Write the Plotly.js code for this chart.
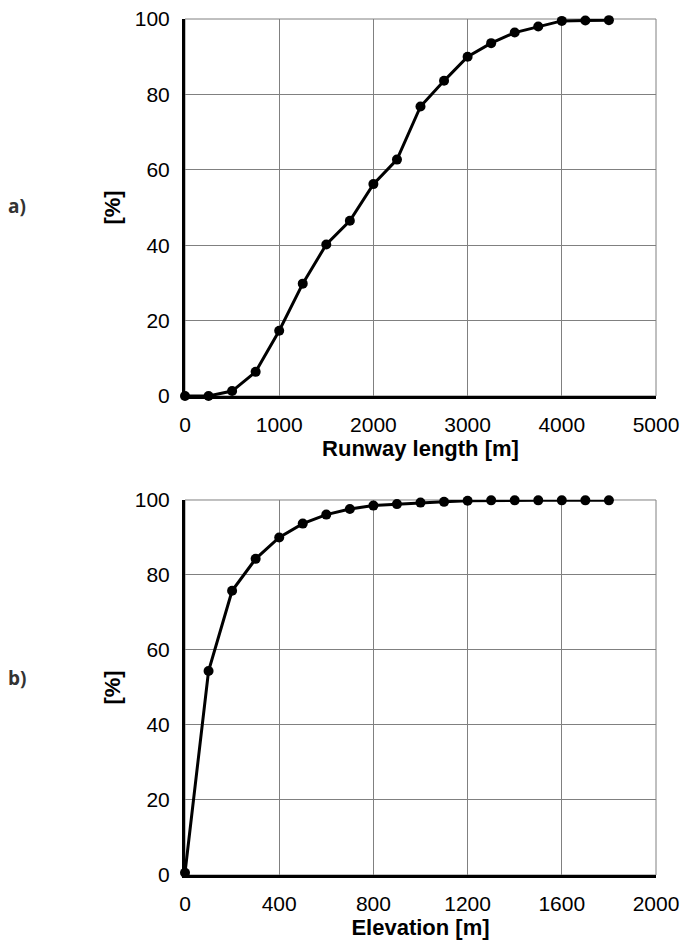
<!DOCTYPE html>
<html>
<head>
<meta charset="utf-8">
<script src="https://cdn.plot.ly/plotly-3.0.1.min.js"></script>
<style>html,body{margin:0;padding:0;background:#fff;}#chart{width:681px;height:942px;}</style>
</head>
<body>
<div id="chart"></div>
<script>
const runwayLength = [0, 250, 500, 750, 1000, 1250, 1500, 1750, 2000, 2250, 2500, 2750, 3000, 3250, 3500, 3750, 4000, 4250, 4500];
const runwayPct = [0, 0, 1.3, 6.4, 17.3, 29.8, 40.2, 46.5, 56.2, 62.7, 76.8, 83.6, 90.0, 93.6, 96.4, 98.0, 99.5, 99.6, 99.7];
const elevation = [0, 100, 200, 300, 400, 500, 600, 700, 800, 900, 1000, 1100, 1200, 1300, 1400, 1500, 1600, 1700, 1800];
const elevationPct = [0.6, 54.4, 75.8, 84.3, 90.0, 93.7, 96.1, 97.6, 98.5, 98.9, 99.3, 99.5, 99.8, 99.9, 99.9, 99.9, 99.9, 99.9, 99.9];
const yTicks = [0, 20, 40, 60, 80, 100];
const xTicksA = [0, 1000, 2000, 3000, 4000, 5000];
const xTicksB = [0, 400, 800, 1200, 1600, 2000];
const panelLabels = ['a)', 'b)'];
const yTitle = '[%]';
const xTitleA = 'Runway length [m]';
const xTitleB = 'Elevation [m]';

const tickFont = {family: 'Liberation Sans, Arial, sans-serif', size: 21, color: '#000'};
const titleFont = {family: 'Liberation Sans, Arial, sans-serif', size: 22, color: '#000', weight: 'bold'};

const lineStyle = {color: '#000', width: 3};
const markerStyle = {color: '#000', size: 10, symbol: 'circle'};

const traces = [
  {x: runwayLength, y: runwayPct, xaxis: 'x', yaxis: 'y', mode: 'lines+markers', line: lineStyle, marker: markerStyle, cliponaxis: false},
  {x: elevation, y: elevationPct, xaxis: 'x2', yaxis: 'y2', mode: 'lines+markers', line: lineStyle, marker: markerStyle, cliponaxis: false}
];

function xAxis(ticks, title, anchor) {
  return {
    anchor: anchor, domain: [0, 1], range: [ticks[0], ticks[ticks.length - 1]],
    tickmode: 'array', tickvals: ticks, ticktext: ticks.map(String),
    showgrid: true, gridcolor: '#808080', gridwidth: 1,
    showline: true, linecolor: '#000', linewidth: 3,
    zeroline: false, ticks: '', ticklabelstandoff: 8,
    tickfont: tickFont,
    title: {text: title, font: titleFont, standoff: 3}
  };
}
function yAxis(domain, anchor) {
  return {
    anchor: anchor, domain: domain, range: [0, 100],
    tickmode: 'array', tickvals: yTicks, ticktext: yTicks.map(String),
    showgrid: true, gridcolor: '#808080', gridwidth: 1,
    showline: true, linecolor: '#000', linewidth: 3,
    zeroline: false, ticks: '', ticklabelstandoff: 8,
    tickfont: tickFont,
    title: {text: yTitle, font: titleFont, standoff: 9}
  };
}

const layout = {
  width: 681, height: 942,
  margin: {l: 185, r: 25, t: 19, b: 67},
  paper_bgcolor: '#fff', plot_bgcolor: '#fff',
  showlegend: false,
  xaxis: xAxis(xTicksA, xTitleA, 'y'),
  yaxis: yAxis([0.5596, 1], 'x'),
  xaxis2: xAxis(xTicksB, xTitleB, 'y2'),
  yaxis2: yAxis([0, 0.4381], 'x2'),
  shapes: [
    {type: 'rect', xref: 'x domain', yref: 'y domain', x0: 0, x1: 1, y0: 0, y1: 1, line: {color: '#808080', width: 1}, layer: 'below'},
    {type: 'rect', xref: 'x2 domain', yref: 'y2 domain', x0: 0, x1: 1, y0: 0, y1: 1, line: {color: '#808080', width: 1}, layer: 'below'}
  ],
  annotations: [
    {text: panelLabels[0], xref: 'paper', yref: 'y domain', x: -168 / 471, y: 0.505, xanchor: 'center', yanchor: 'middle', showarrow: false, font: {family: 'Open Sans, sans-serif', size: 19, weight: 700, color: '#333'}},
    {text: panelLabels[1], xref: 'paper', yref: 'y2 domain', x: -168 / 471, y: 0.525, xanchor: 'center', yanchor: 'middle', showarrow: false, font: {family: 'Open Sans, sans-serif', size: 19, weight: 700, color: '#333'}}
  ]
};

Plotly.newPlot('chart', traces, layout, {staticPlot: true, displayModeBar: false});
</script>
</body>
</html>
